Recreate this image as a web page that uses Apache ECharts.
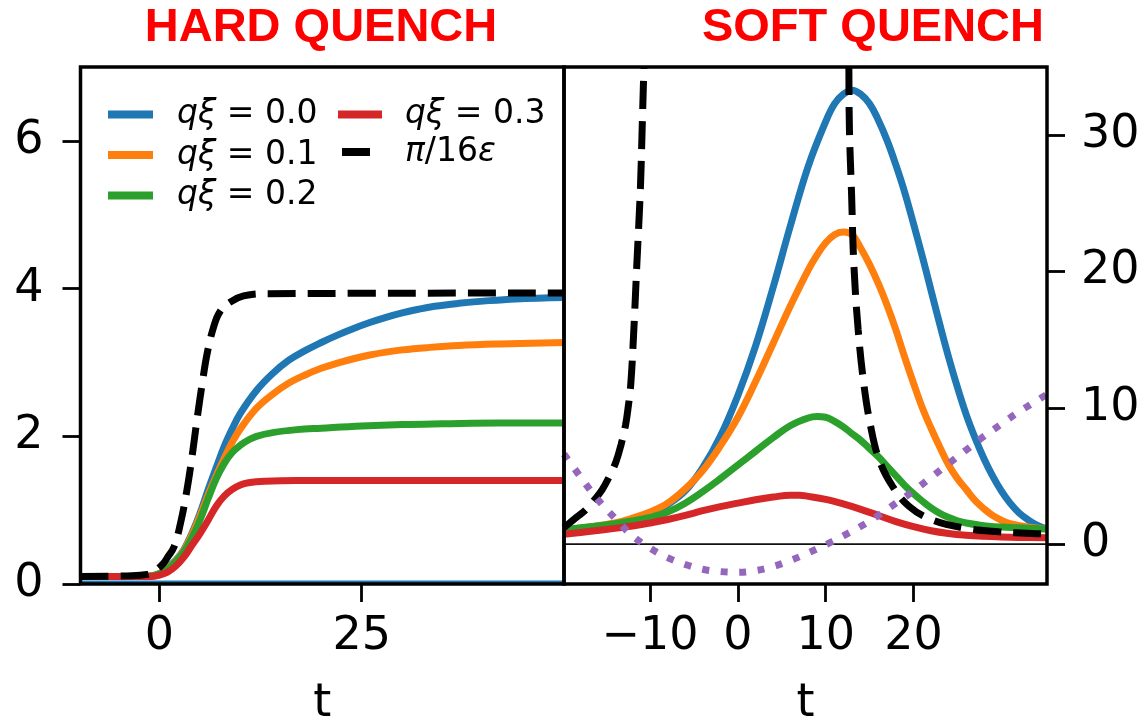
<!DOCTYPE html>
<html>
<head>
<meta charset="utf-8">
<script src="https://cdn.jsdelivr.net/npm/echarts@6/dist/echarts.min.js"></script>
<style>
  html, body { margin: 0; padding: 0; background: #ffffff; }
  #chart { width: 1148px; height: 724px; }
</style>
</head>
<body>
<div id="chart"></div>
<script>
// ---------- labels and ticks ----------
const xiLabels = ['qξ = 0.0', 'qξ = 0.1', 'qξ = 0.2', 'qξ = 0.3'];
const piLabel = 'π/16ε';
const panelTitles = ['HARD QUENCH', 'SOFT QUENCH'];
const hardTicksX = [0, 25];
const hardTicksY = [0, 2, 4, 6];
const softTicksX = [-10, 0, 10, 20];
const softTicksY = [0, 10, 20, 30];

// ---------- hard quench: [t, value] ----------
const hardXi00 = [[-9.75,0.1],[-4,0.1],[-1,0.11],[0,0.14],[1,0.22],[2,0.32],[3,0.46],[4,0.68],[5,0.95],[6,1.27],[7,1.57],[8,1.86],[9,2.1],[10,2.31],[12,2.62],[14,2.85],[16,3.03],[18,3.16],[20,3.27],[22,3.37],[24,3.46],[26,3.54],[28,3.61],[30,3.67],[32,3.72],[34,3.76],[37,3.8],[40,3.83],[44,3.86],[50,3.88]];
const hardXi01 = [[-9.75,0.1],[-4,0.1],[-1,0.11],[0,0.14],[1,0.21],[2,0.31],[3,0.45],[4,0.66],[5,0.92],[6,1.2],[7,1.46],[8,1.7],[9,1.92],[10,2.1],[12,2.38],[14,2.57],[16,2.72],[18,2.83],[20,2.92],[22,2.99],[24,3.05],[26,3.1],[28,3.14],[30,3.17],[33,3.2],[37,3.23],[42,3.25],[50,3.27]];
const hardXi02 = [[-9.75,0.1],[-4,0.1],[-1,0.11],[0,0.14],[1,0.2],[2,0.3],[3,0.43],[4,0.62],[5,0.86],[6,1.15],[7,1.42],[8,1.63],[9,1.78],[10,1.88],[11,1.95],[12,2.0],[14,2.05],[17,2.09],[20,2.11],[25,2.14],[30,2.16],[35,2.17],[42,2.18],[50,2.18]];
const hardXi03 = [[-9.75,0.1],[-4,0.1],[-1,0.1],[0,0.12],[1,0.16],[2,0.24],[3,0.36],[4,0.52],[5,0.68],[6,0.86],[7,1.05],[8,1.19],[9,1.28],[10,1.34],[11,1.37],[13,1.39],[17,1.4],[25,1.4],[50,1.4]];
const hardPi = [[-9.75,0.1],[-4,0.11],[-1.5,0.13],[-0.5,0.18],[0.5,0.28],[1,0.36],[1.8,0.5],[2.6,0.82],[3.4,1.27],[4,1.7],[4.7,2.27],[5.3,2.72],[5.9,3.12],[6.7,3.48],[7.5,3.69],[8.8,3.82],[10.4,3.9],[13,3.93],[50,3.94]];
const hardBase = [[-9.75,0.03],[50,0.03]];

// ---------- soft quench: [t, value] ----------
const softXi00 = [[-19.8,1.0],[-17,1.2],[-14,1.45],[-12,1.8],[-10,2.2],[-8,2.9],[-6,3.9],[-4,5.6],[-2,7.9],[0,10.9],[2,14.5],[4,18.8],[6,23.4],[8,27.7],[10,31.0],[11,32.3],[12,33.0],[13,33.3],[14,33.0],[15,32.3],[16,31.1],[17,29.6],[18,27.8],[19,25.8],[20,23.5],[21,21.1],[22,18.6],[23,16.1],[24,13.7],[25,11.5],[26,9.5],[27,7.8],[28,6.3],[29,5.0],[30,3.9],[31,3.0],[32,2.3],[33,1.8],[34,1.4],[35.2,1.1]];
const softXi01 = [[-19.8,1.05],[-17,1.25],[-14,1.55],[-12,1.9],[-10,2.35],[-8,3.0],[-6,4.05],[-4,5.4],[-2,7.2],[0,9.3],[2,11.9],[4,14.7],[6,17.5],[8,20.1],[9,21.2],[10,22.1],[11,22.7],[12,22.9],[13,22.7],[14,21.7],[15,20.5],[16,19.1],[17,17.5],[18,15.7],[19,13.7],[20,11.8],[21,10.0],[22,8.5],[23,7.1],[24,5.8],[25,4.8],[26,4.0],[27,3.2],[28,2.6],[29,2.1],[30,1.75],[31,1.5],[33,1.25],[35.2,1.1]];
const softXi02 = [[-19.8,1.05],[-17,1.25],[-14,1.5],[-12,1.7],[-10,1.95],[-8,2.35],[-6,3.0],[-4,3.85],[-2,4.8],[0,5.8],[2,6.8],[4,7.8],[6,8.7],[8,9.25],[9,9.35],[10,9.3],[11,9.0],[12,8.6],[13,8.1],[14,7.6],[15,7.0],[16,6.4],[17,5.7],[18,5.0],[19,4.3],[20,3.7],[21,3.15],[22,2.65],[23,2.25],[24,1.95],[25,1.7],[26,1.55],[28,1.35],[30,1.25],[32,1.2],[35.2,1.1]];
const softXi03 = [[-19.8,0.72],[-17,0.92],[-14,1.15],[-12,1.32],[-10,1.55],[-8,1.8],[-6,2.1],[-4,2.45],[-2,2.75],[0,3.0],[2,3.25],[4,3.45],[6,3.58],[7,3.58],[8,3.5],[10,3.28],[12,2.95],[14,2.55],[16,2.1],[18,1.65],[20,1.28],[22,0.98],[24,0.78],[26,0.65],[28,0.57],[30,0.52],[32,0.49],[35.2,0.46]];
const softPiLeft = [[-19.8,1.2],[-19.25,1.5],[-18.3,2.0],[-17.35,2.5],[-16.4,3.2],[-15.45,4.0],[-14.6,5.0],[-13.9,6.0],[-13.3,7.3],[-12.8,8.7],[-12.5,10.0],[-12.2,11.7],[-11.85,15.7],[-11.5,20.6],[-11.1,26.1],[-10.9,30.5],[-10.7,35]];
const softPiRight = [[12.64,35],[12.7,30.5],[12.95,25.6],[13.2,20.6],[13.7,15.7],[14.35,11.7],[15.1,8.7],[16.05,6.25],[17.6,4.25],[19.5,2.77],[22.1,1.78],[25.9,1.16],[29.7,0.9],[33.5,0.78],[35.2,0.75]];
const softEps = [[-19.8,6.6],[-18,5.0],[-16,3.3],[-14,1.9],[-12,0.6],[-10,-0.3],[-8,-1.0],[-6,-1.5],[-4,-1.85],[-2,-2.02],[0,-2.07],[2,-1.95],[4,-1.65],[6,-1.2],[8,-0.65],[10,-0.05],[12,0.6],[14,1.3],[16,2.1],[18,3.0],[20,3.9],[22,4.9],[24,5.9],[26,6.9],[28,7.9],[30,8.8],[32,9.7],[34,10.5],[35.2,11.0]];
const softBase = [[-19.8,0],[35.2,0]];

// ---------- styling ----------
const palette = ['#1f77b4', '#ff7f0e', '#2ca02c', '#d62728'];
const epsColor = '#9467bd';
const tickFont = 'DejaVu Sans';
const LW = 7;

const chart = echarts.init(document.getElementById('chart'), null, { renderer: 'canvas' });

function curve(name, data, color, panel, opts) {
  return Object.assign({
    type: 'line',
    name: name,
    data: data,
    xAxisIndex: panel,
    yAxisIndex: panel,
    symbol: 'none',
    showSymbol: false,
    smooth: 0.4,
    color: color,
    lineStyle: { color: color, width: LW, cap: 'butt', join: 'round' },
    itemStyle: { color: color },
    emphasis: { disabled: true },
    animation: false,
    z: 3
  }, opts || {});
}

const dashed = { lineStyle: { color: '#000', width: LW, type: [28, 12], cap: 'butt' }, z: 4 };
const dotted = { lineStyle: { color: epsColor, width: LW, type: [7, 11.5], cap: 'butt' }, z: 5 };

const hardSets = [hardXi00, hardXi01, hardXi02, hardXi03];
const softSets = [softXi00, softXi01, softXi02, softXi03];

const series = [];
series.push(curve('base0', hardBase, '#1f77b4', 0, { lineStyle: { color: '#1f77b4', width: 2.5 }, z: 1 }));
hardSets.forEach((d, i) => series.push(curve(xiLabels[i], d, palette[i], 0)));
series.push(curve(piLabel, hardPi, '#000', 0, dashed));
series.push(curve('base1', softBase, '#000', 1, { lineStyle: { color: '#111', width: 1.8 }, z: 1 }));
softSets.forEach((d, i) => series.push(curve(xiLabels[i], d, palette[i], 1)));
series.push(curve(piLabel, softPiLeft, '#000', 1, dashed));
series.push(curve(piLabel, softPiRight, '#000', 1, dashed));
series.push(curve('ε', softEps, epsColor, 1, dotted));

function signed(v) { return v < 0 ? '\u2212' + Math.abs(v) : String(v); }

function legendLabel(name) {
  if (name === piLabel) return '{s|}{m|π}{n|/16}{m|ε}';
  return '{s|}{m|qξ}{n| = ' + name.split('= ')[1] + '}';
}
function legendRich(spacer) {
  return {
    s: { width: spacer },
    m: { fontFamily: tickFont, fontStyle: 'italic', fontSize: 33, color: '#000' },
    n: { fontFamily: tickFont, fontSize: 33, color: '#000' }
  };
}
function legendBox(names, left, top, iconW, spacer) {
  return {
    data: names.map(n => ({ name: n, icon: 'rect' })),
    orient: 'vertical',
    left: left, top: top,
    padding: 0,
    itemWidth: iconW, itemHeight: 8,
    itemGap: 7.5,
    selectedMode: false,
    formatter: legendLabel,
    textStyle: { lineHeight: 30, rich: legendRich(spacer) }
  };
}

const frame = { show: true, borderColor: '#000', borderWidth: 3.5, backgroundColor: 'transparent', z: 10, outerBoundsMode: 'none', containLabel: false };
const tickStyle = { show: true, inside: false, length: 18, lineStyle: { color: '#000', width: 2.8 } };
const labelStyle = { color: '#000', fontFamily: tickFont, fontSize: 46 };
const nameStyle = { color: '#000', fontFamily: tickFont, fontSize: 46 };
const noLine = { show: false, onZero: false };

const option = {
  backgroundColor: '#ffffff',
  animation: false,
  grid: [
    Object.assign({ left: 80.5, top: 67, width: 483.5, height: 517 }, frame),
    Object.assign({ left: 564, top: 67, width: 483, height: 517 }, frame)
  ],
  xAxis: [
    {
      type: 'value', gridIndex: 0, min: -9.75, max: 50,
      axisLine: noLine, splitLine: { show: false },
      axisTick: Object.assign({ customValues: hardTicksX }, tickStyle),
      axisLabel: Object.assign({ customValues: hardTicksX, margin: 30, formatter: signed }, labelStyle),
      name: 't', nameLocation: 'middle', nameGap: 97, nameTextStyle: nameStyle
    },
    {
      type: 'value', gridIndex: 1, min: -19.8, max: 35.2,
      axisLine: noLine, splitLine: { show: false },
      axisTick: Object.assign({ customValues: softTicksX }, tickStyle),
      axisLabel: Object.assign({ customValues: softTicksX, margin: 30, formatter: signed }, labelStyle),
      name: 't', nameLocation: 'middle', nameGap: 97, nameTextStyle: nameStyle
    }
  ],
  yAxis: [
    {
      type: 'value', gridIndex: 0, min: 0, max: 7,
      axisLine: noLine, splitLine: { show: false },
      axisTick: Object.assign({ customValues: hardTicksY }, tickStyle),
      axisLabel: Object.assign({ customValues: hardTicksY, margin: 37, formatter: signed }, labelStyle)
    },
    {
      type: 'value', gridIndex: 1, min: -2.93, max: 35, position: 'right',
      axisLine: noLine, splitLine: { show: false },
      axisTick: Object.assign({ customValues: softTicksY }, tickStyle),
      axisLabel: Object.assign({ customValues: softTicksY, margin: 34, formatter: signed }, labelStyle)
    }
  ],
  legend: [
    legendBox(xiLabels.slice(0, 3), 108, 98, 45, 19),
    legendBox([xiLabels[3]], 338, 98, 44, 18),
    legendBox([piLabel], 342, 135.5, 28, 30)
  ],
  graphic: [
    { type: 'text', x: 321, y: 28.5, silent: true,
      style: { text: panelTitles[0], fill: '#ff0000', font: 'bold 47px "Liberation Sans", Arial, sans-serif', textAlign: 'center', textVerticalAlign: 'middle' } },
    { type: 'text', x: 1044, y: 28.5, silent: true,
      style: { text: panelTitles[1], fill: '#ff0000', font: 'bold 47px "Liberation Sans", Arial, sans-serif', textAlign: 'right', textVerticalAlign: 'middle' } }
  ],
  series: series
};

chart.setOption(option);
</script>
</body>
</html>
